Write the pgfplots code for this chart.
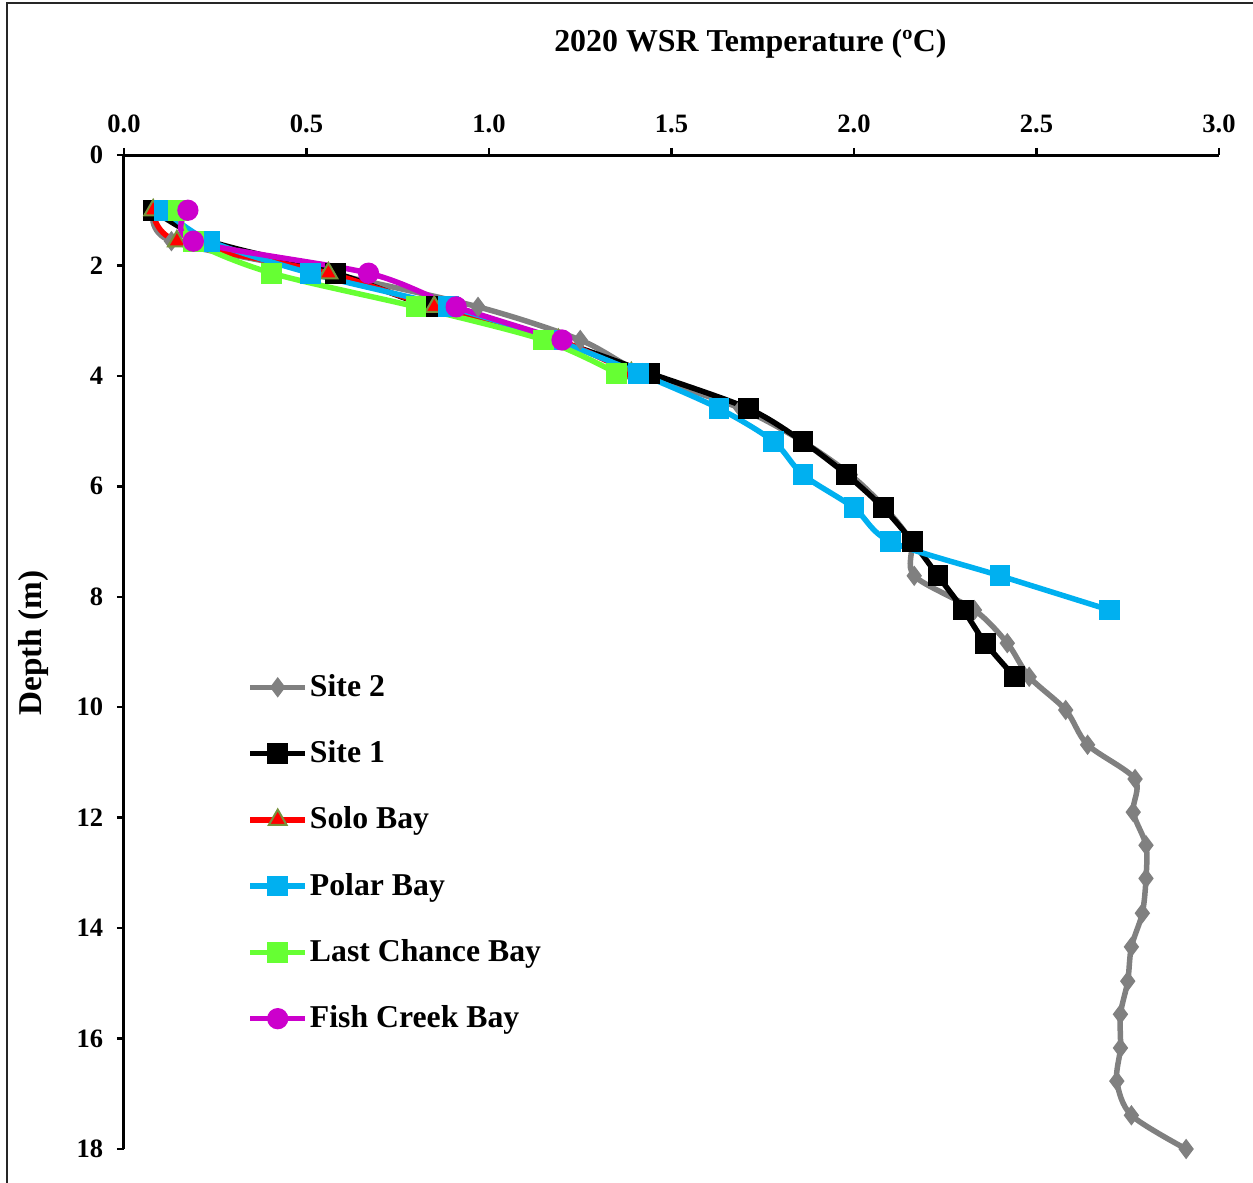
\documentclass[border=0pt]{standalone}
\usepackage{fontspec}
\setmainfont{Liberation Serif}
\usepackage{pgfplots}
\pgfplotsset{compat=1.18}
\definecolor{sitetwo}{RGB}{128,128,128}
\definecolor{solo}{RGB}{255,0,0}
\definecolor{soloedge}{RGB}{119,147,60}
\definecolor{polar}{RGB}{0,176,240}
\definecolor{lastc}{RGB}{102,255,51}
\definecolor{fish}{RGB}{204,0,204}
\begin{document}
\begin{tikzpicture}
\path[use as bounding box] (-49.6pt,-13.6pt) rectangle (451.6pt,459.6pt);
\draw[line width=0.8pt, black!85] (-46.8pt,-20pt) -- (-46.8pt,458.4pt) -- (460pt,458.4pt);
\begin{axis}[
  at={(0,0)}, anchor=south west,
  scale only axis, width=438pt, height=397.6pt,
  xmin=0, xmax=3, ymin=0, ymax=18,
  y dir=reverse,
  axis x line*=top, axis y line*=left,
  axis line style={line width=1.2pt, black},
  xtick={0,0.5,1,1.5,2,2.5,3},
  ytick={0,2,4,6,8,10,12,14,16,18},
  tick align=outside,
  major tick length=2.8pt,
  tick style={line width=1pt, black},
  xticklabel pos=right,
  xticklabel style={/pgf/number format/fixed, /pgf/number format/fixed zerofill, /pgf/number format/precision=1},
  /pgf/number format/assume math mode=true,
  ticklabel style={font=\fontsize{10.6}{12}\selectfont\bfseries},
  xticklabel style={yshift=2.4pt},
  yticklabel style={xshift=-2pt},
  ylabel={Depth (m)},
  every axis y label/.style={at={(axis description cs:-0.083,0.509)}, rotate=90, anchor=center, font=\fontsize{13.3}{15}\selectfont\bfseries},
  legend style={at={(axis description cs:0.1123,0.480)}, anchor=north west, draw=none, fill=none,
    font=\fontsize{12.7}{15}\selectfont\bfseries, row sep=14.6pt, inner sep=0pt,
    nodes={inner sep=0.8pt}},
  legend cell align=left,
  legend image code/.code={\draw[mark repeat=2,mark phase=2,#1] plot coordinates {(0pt,0pt) (11pt,0pt) (22pt,0pt)};},
  clip=false,
  every axis plot/.append style={line width=2.2pt, smooth, tension=0.5},
]
\addplot[sitetwo, mark=diamond*, mark size=3.7pt, mark options={fill=sitetwo, draw=sitetwo, line width=0.5pt}] coordinates {
(0.08,1.0) (0.13,1.56) (0.56,2.14) (0.97,2.75) (1.25,3.35) (1.42,3.95) (1.69,4.59) (1.86,5.19) (1.99,5.79) (2.085,6.39) (2.155,7.0) (2.165,7.62) (2.33,8.24) (2.42,8.84) (2.48,9.45) (2.58,10.05) (2.64,10.68) (2.77,11.3) (2.765,11.9) (2.80,12.5) (2.80,13.1) (2.79,13.73) (2.76,14.34) (2.75,14.96) (2.73,15.56) (2.73,16.17) (2.72,16.77) (2.76,17.39) (2.91,18.0)};
\addlegendentry{Site 2}
\addplot[black, mark=square*, mark size=3.9pt, mark options={fill=black, draw=black, line width=0.5pt}] coordinates {
(0.08,1.0) (0.235,1.56) (0.58,2.14) (0.84,2.75) (1.18,3.35) (1.44,3.95) (1.71,4.59) (1.86,5.19) (1.98,5.79) (2.08,6.39) (2.16,7.0) (2.23,7.62) (2.30,8.24) (2.36,8.84) (2.44,9.45)};
\addlegendentry{Site 1}
\addplot[solo, mark=triangle*, mark size=4.1pt, mark options={fill=solo, draw=soloedge, line width=0.8pt}] coordinates {
(0.08,1.0) (0.145,1.56) (0.56,2.14) (0.85,2.75) (1.19,3.35) (1.39,3.95)};
\addlegendentry{Solo Bay}
\addplot[polar, mark=square*, mark size=3.9pt, mark options={fill=polar, draw=polar, line width=0.5pt}] coordinates {
(0.11,1.0) (0.235,1.56) (0.51,2.14) (0.89,2.75) (1.18,3.35) (1.41,3.95) (1.63,4.59) (1.78,5.19) (1.86,5.79) (2.0,6.39) (2.10,7.0) (2.40,7.62) (2.70,8.24)};
\addlegendentry{Polar Bay}
\addplot[lastc, mark=square*, mark size=3.9pt, mark options={fill=lastc, draw=lastc, line width=0.5pt}] coordinates {
(0.15,1.0) (0.19,1.56) (0.405,2.14) (0.80,2.75) (1.15,3.35) (1.35,3.95)};
\addlegendentry{Last Chance Bay}
\addplot[fish, mark=*, mark size=4pt, mark options={fill=fish, draw=fish, line width=0.5pt}] coordinates {
(0.175,1.0) (0.19,1.56) (0.67,2.14) (0.91,2.75) (1.20,3.35)};
\addlegendentry{Fish Creek Bay}
\node[font=\fontsize{12.75}{14}\selectfont\bfseries, anchor=center] at (axis description cs:0.572,1) [yshift=44.4pt] {2020 WSR Temperature (ºC)};
\end{axis}
\end{tikzpicture}
\end{document}
